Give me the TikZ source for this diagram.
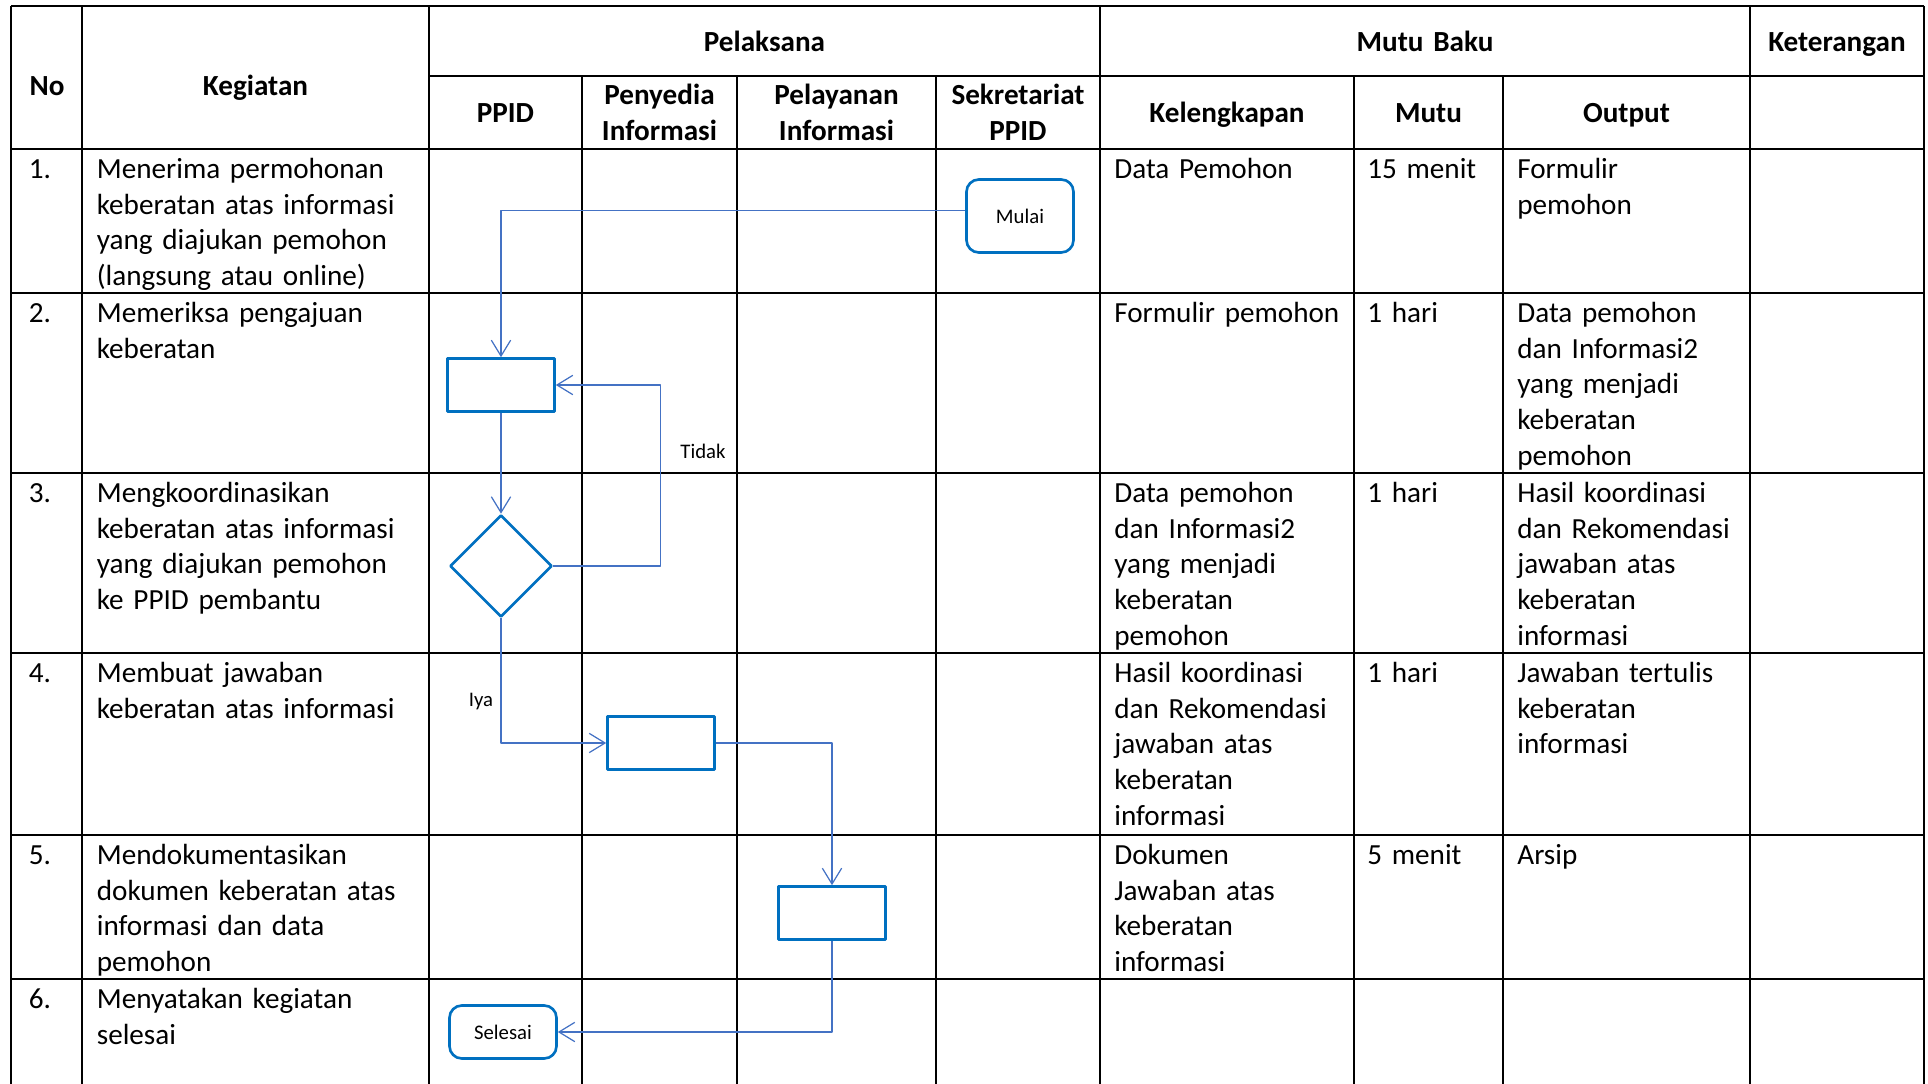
\documentclass[tikz,border=0pt]{standalone}
\usepackage{fontspec}
\setmainfont{Carlito}
\usetikzlibrary{arrows.meta,shapes.geometric}

\definecolor{boxblue}{HTML}{0070C0}
\definecolor{flowblue}{HTML}{4472C4}
\newcommand\cellfont{\fontsize{16.6}{20.3}\selectfont}
\newcommand\tagfont{\fontsize{11.8}{14}\selectfont}

\begin{document}
\begin{tikzpicture}[x=0.02cm,y=-0.02cm,line join=round,
    >={Straight Barb[length=9pt,width=11pt]},
    rule/.style={line width=1.2pt},
    flow/.style={->,draw=flowblue,line width=.7pt},
    stepbox/.style={draw=boxblue,line width=1.5pt,minimum width=2.14cm,
      minimum height=1.06cm,inner sep=0pt},
    terminal/.style={stepbox,rounded corners=7pt,font=\tagfont},
    decision/.style={draw=boxblue,line width=1.5pt,shape=diamond,
      minimum width=2.04cm,minimum height=2.04cm,inner sep=0pt},
    head/.style={font=\cellfont\bfseries,anchor=base,inner sep=0pt,
      text width=4cm,align=center},
    cell/.style={font=\cellfont,anchor=base west,inner sep=0pt,
      text width=6.6cm,align=left},
    tag/.style={font=\tagfont,anchor=base,inner sep=0pt}]
    \useasboundingbox (0,0) rectangle (1928,1084);

    % The horizontal rules of the table.
    \draw[rule] (11,6) -- (1924,6);
    \draw[rule] (429,76) -- (1924,76);
    \draw[rule] (11,149) -- (1924,149);
    \draw[rule] (11,293) -- (1924,293);
    \draw[rule] (11,473) -- (1924,473);
    \draw[rule] (11,653) -- (1924,653);
    \draw[rule] (11,835) -- (1924,835);
    \draw[rule] (11,979) -- (1924,979);

    % The vertical rules, running off the bottom edge.
    \draw[rule] (11,6) -- (11,1084);
    \draw[rule] (82,6) -- (82,1084);
    \draw[rule] (429,6) -- (429,1084);
    \draw[rule] (582,76) -- (582,1084);
    \draw[rule] (737,76) -- (737,1084);
    \draw[rule] (936,76) -- (936,1084);
    \draw[rule] (1100,6) -- (1100,1084);
    \draw[rule] (1354,76) -- (1354,1084);
    \draw[rule] (1503,76) -- (1503,1084);
    \draw[rule] (1750,6) -- (1750,1084);
    \draw[rule] (1924,6) -- (1924,1084);

    % The header.
    \node[head] (hno) at (47,96) {No};
    \node[head] (hkeg) at (255.5,96) {Kegiatan};
    \node[head] (hpel) at (764.5,52) {Pelaksana};
    \node[head] (hmutubaku) at (1425,52) {Mutu Baku};
    \node[head] (hket) at (1837,52) {Keterangan};
    \node[head] (hppid) at (505.5,123) {PPID};
    \node[head] (hpenyedia) at (659.5,105) {Penyedia\\Informasi};
    \node[head] (hpelayanan) at (836.5,105) {Pelayanan\\Informasi};
    \node[head] (hsekr) at (1018,105) {Sekretariat\\PPID};
    \node[head] (hkel) at (1227,123) {Kelengkapan};
    \node[head] (hmutu) at (1428.5,123) {Mutu};
    \node[head] (hout) at (1626.5,123) {Output};

    % Row 1.
    \node[cell] (no1) at (28.5,178.5) {1.};
    \node[cell] (keg1) at (96.5,178.5) {Menerima permohonan\\keberatan atas informasi\\yang diajukan pemohon\\(langsung atau online)};
    \node[cell] (kel1) at (1114,178.5) {Data Pemohon};
    \node[cell] (mutu1) at (1367,178.5) {15 menit};
    \node[cell] (out1) at (1517,178.5) {Formulir\\pemohon};

    % Row 2.
    \node[cell] (no2) at (28.5,322.5) {2.};
    \node[cell] (keg2) at (96.5,322.5) {Memeriksa pengajuan\\keberatan};
    \node[cell] (kel2) at (1114,322.5) {Formulir pemohon};
    \node[cell] (mutu2) at (1367,322.5) {1 hari};
    \node[cell] (out2) at (1517,322.5) {Data pemohon\\dan Informasi2\\yang menjadi\\keberatan\\pemohon};

    % Row 3.
    \node[cell] (no3) at (28.5,502.5) {3.};
    \node[cell] (keg3) at (96.5,502.5) {Mengkoordinasikan\\keberatan atas informasi\\yang diajukan pemohon\\ke PPID pembantu};
    \node[cell] (kel3) at (1114,502.5) {Data pemohon\\dan Informasi2\\yang menjadi\\keberatan\\pemohon};
    \node[cell] (mutu3) at (1367,502.5) {1 hari};
    \node[cell] (out3) at (1517,502.5) {Hasil koordinasi\\dan Rekomendasi\\jawaban atas\\keberatan\\informasi};

    % Row 4.
    \node[cell] (no4) at (28.5,682.5) {4.};
    \node[cell] (keg4) at (96.5,682.5) {Membuat jawaban\\keberatan atas informasi};
    \node[cell] (kel4) at (1114,682.5) {Hasil koordinasi\\dan Rekomendasi\\jawaban atas\\keberatan\\informasi};
    \node[cell] (mutu4) at (1367,682.5) {1 hari};
    \node[cell] (out4) at (1517,682.5) {Jawaban tertulis\\keberatan\\informasi};

    % Row 5.
    \node[cell] (no5) at (28.5,864.5) {5.};
    \node[cell] (keg5) at (96.5,864.5) {Mendokumentasikan\\dokumen keberatan atas\\informasi dan data\\pemohon};
    \node[cell] (kel5) at (1114,864.5) {Dokumen\\Jawaban atas\\keberatan\\informasi};
    \node[cell] (mutu5) at (1367,864.5) {5 menit};
    \node[cell] (out5) at (1517,864.5) {Arsip};

    % Row 6.
    \node[cell] (no6) at (28.5,1008.5) {6.};
    \node[cell] (keg6) at (96.5,1008.5) {Menyatakan kegiatan\\selesai};

    % The flow shapes.
    \node[terminal,minimum height=1.46cm] (mulai) at (1020,216) {Mulai};
    \node[stepbox] (periksa) at (501,385) {};
    \node[decision] (cek) at (501,566) {};
    \node[stepbox] (jawab) at (661,743) {};
    \node[stepbox] (arsip) at (832,913) {};
    \node[terminal] (selesai) at (503,1032) {Selesai};

    % The connectors between them.
    \draw[flow] ([yshift=3pt]mulai.west) -| (periksa.north);
    \draw[flow] (periksa.south) -- (cek.north);
    \draw[flow] (cek.east) -- ++(107,0) |- (periksa.east);
    \draw[flow] (cek.south) |- (jawab.west);
    \draw[flow] (jawab.east) -| (arsip.north);
    \draw[flow] (arsip.south) |- (selesai.east);

    \node[tag] (tidak) at (703,459) {Tidak};
    \node[tag] (iya) at (481,706) {Iya};
\end{tikzpicture}
\end{document}
